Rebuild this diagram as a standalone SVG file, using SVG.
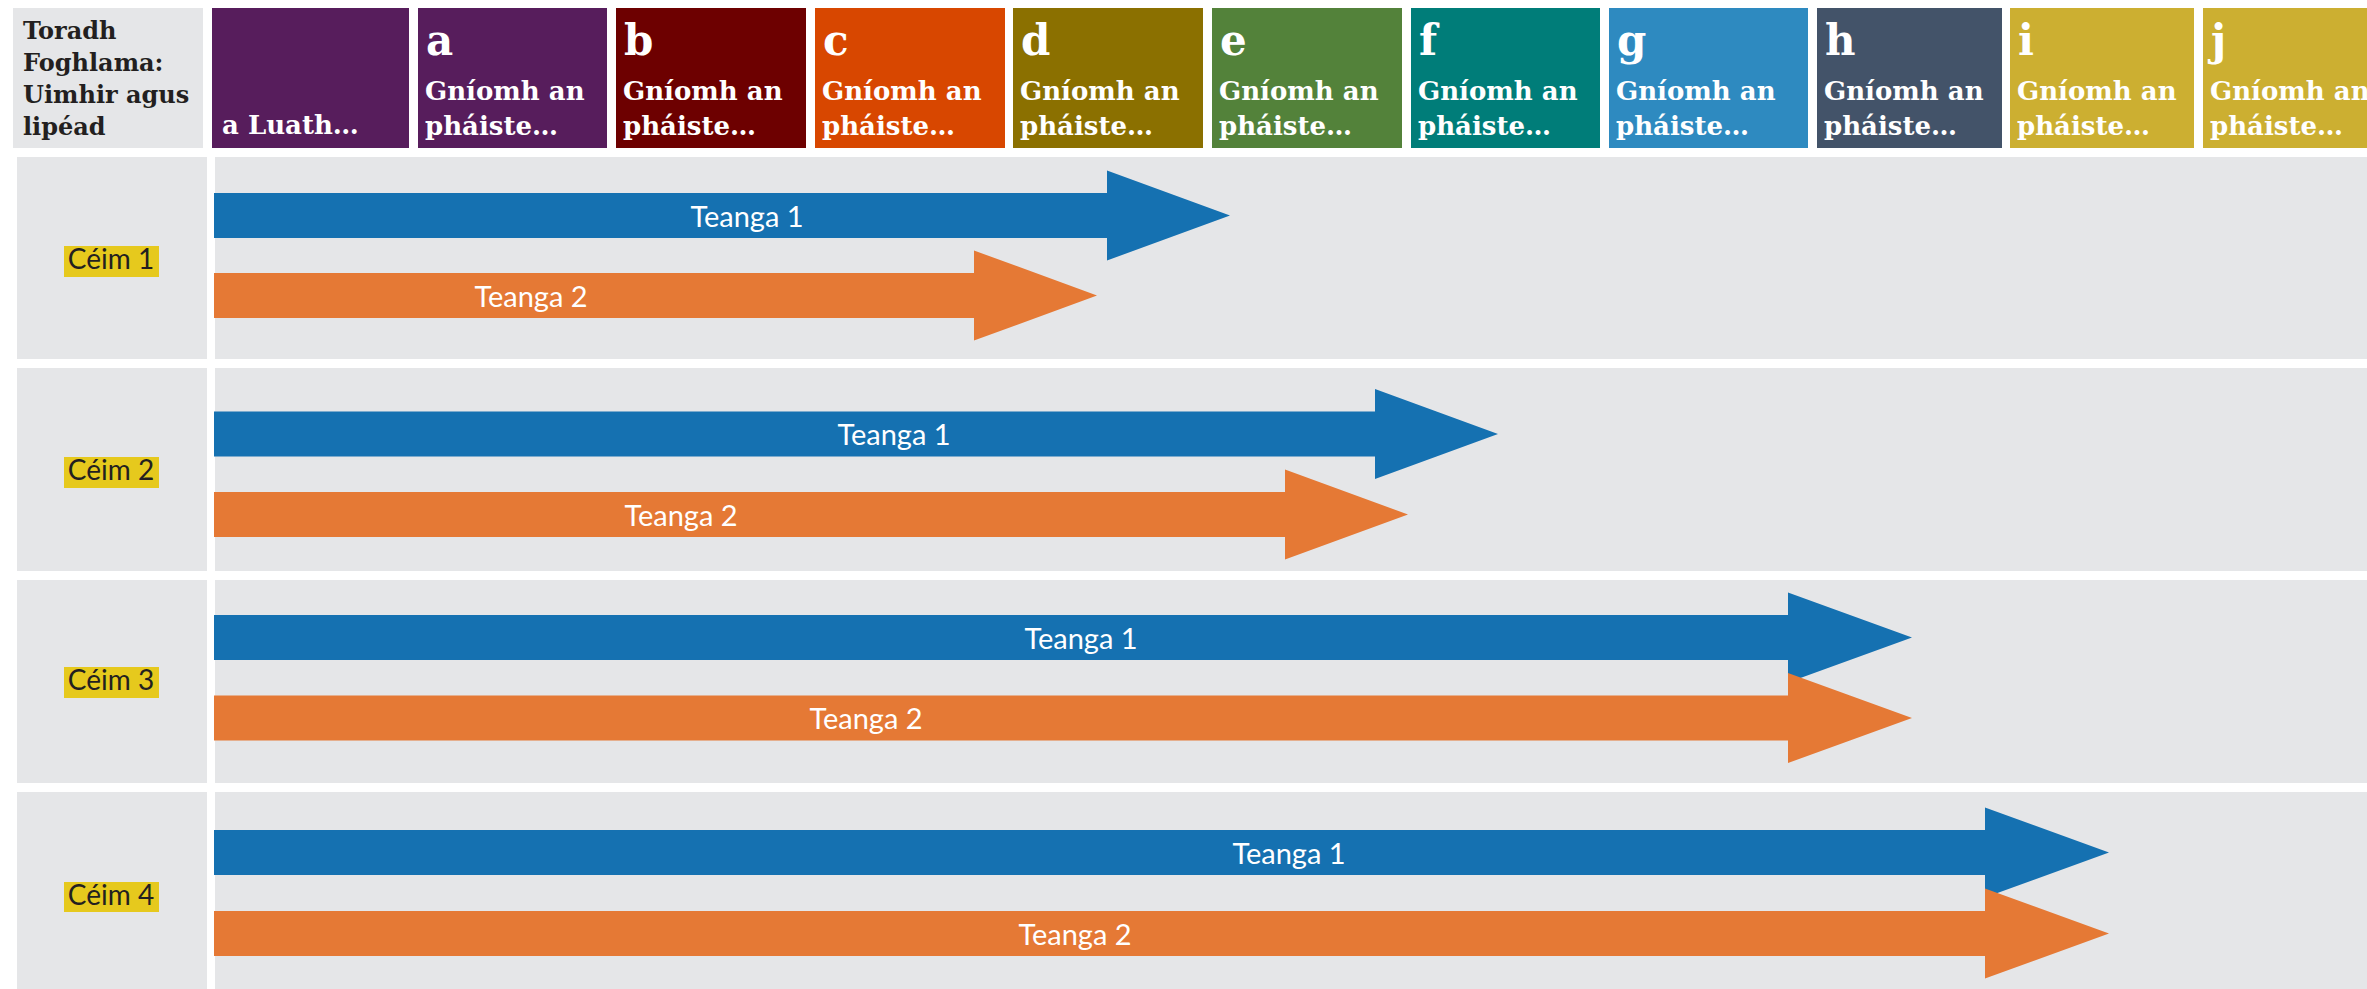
<svg xmlns="http://www.w3.org/2000/svg" width="2367" height="989" viewBox="0 0 2367 989">
<style>
.grey{fill:#e5e6e8}
.hl{fill:#e6c91d}
.hd{font-family:"DejaVu Serif","Liberation Serif",serif;font-weight:bold;fill:#ffffff}
.big{font-size:42px}
.sm{font-size:26px}
.tor{font-family:"DejaVu Serif","Liberation Serif",serif;font-weight:bold;font-size:24px;fill:#231f20}
.ceim{font-family:Lato,"Open Sans",sans-serif;font-size:28px;fill:#231f20;text-anchor:middle}
.lab{font-family:Lato,"Open Sans",sans-serif;font-size:29px;fill:#ffffff;text-anchor:middle}
.blue{fill:#1571b1}
.orange{fill:#e57935}
</style>
<rect width="2367" height="989" fill="#ffffff"/>

<!-- header -->
<g id="hdr-label">
<rect class="grey" x="13" y="8" width="190" height="140"/>
<text class="tor" x="23" y="39">Toradh</text>
<text class="tor" x="23" y="71">Foghlama:</text>
<text class="tor" x="23" y="103">Uimhir agus</text>
<text class="tor" x="23" y="135">lipéad</text>
</g>
<g id="hdr-luath">
<rect x="212" y="8" width="197" height="140" fill="#571d5c"/>
<text class="hd sm" x="222" y="134">a Luath…</text>
</g>
<g id="hdr-a">
<rect x="418" y="8" width="189" height="140" fill="#571d5c"/>
<text class="hd big" x="426" y="55">a</text>
<text class="hd sm" x="425" y="100">Gníomh an</text>
<text class="hd sm" x="425" y="135">pháiste…</text>
</g>
<g id="hdr-b">
<rect x="616" y="8" width="190" height="140" fill="#6d0000"/>
<text class="hd big" x="624" y="55">b</text>
<text class="hd sm" x="623" y="100">Gníomh an</text>
<text class="hd sm" x="623" y="135">pháiste…</text>
</g>
<g id="hdr-c">
<rect x="815" y="8" width="190" height="140" fill="#d84700"/>
<text class="hd big" x="823" y="55">c</text>
<text class="hd sm" x="822" y="100">Gníomh an</text>
<text class="hd sm" x="822" y="135">pháiste…</text>
</g>
<g id="hdr-d">
<rect x="1013" y="8" width="190" height="140" fill="#8b7000"/>
<text class="hd big" x="1021" y="55">d</text>
<text class="hd sm" x="1020" y="100">Gníomh an</text>
<text class="hd sm" x="1020" y="135">pháiste…</text>
</g>
<g id="hdr-e">
<rect x="1212" y="8" width="190" height="140" fill="#53823a"/>
<text class="hd big" x="1220" y="55">e</text>
<text class="hd sm" x="1219" y="100">Gníomh an</text>
<text class="hd sm" x="1219" y="135">pháiste…</text>
</g>
<g id="hdr-f">
<rect x="1411" y="8" width="189" height="140" fill="#007d79"/>
<text class="hd big" x="1419" y="55">f</text>
<text class="hd sm" x="1418" y="100">Gníomh an</text>
<text class="hd sm" x="1418" y="135">pháiste…</text>
</g>
<g id="hdr-g">
<rect x="1609" y="8" width="199" height="140" fill="#2e8ac0"/>
<text class="hd big" x="1617" y="55">g</text>
<text class="hd sm" x="1616" y="100">Gníomh an</text>
<text class="hd sm" x="1616" y="135">pháiste…</text>
</g>
<g id="hdr-h">
<rect x="1817" y="8" width="185" height="140" fill="#435369"/>
<text class="hd big" x="1825" y="55">h</text>
<text class="hd sm" x="1824" y="100">Gníomh an</text>
<text class="hd sm" x="1824" y="135">pháiste…</text>
</g>
<g id="hdr-i">
<rect x="2010" y="8" width="184" height="140" fill="#ccaf31"/>
<text class="hd big" x="2018" y="55">i</text>
<text class="hd sm" x="2017" y="100">Gníomh an</text>
<text class="hd sm" x="2017" y="135">pháiste…</text>
</g>
<g id="hdr-j">
<rect x="2203" y="8" width="164" height="140" fill="#ccaf31"/>
<text class="hd big" x="2211" y="55">j</text>
<text class="hd sm" x="2210" y="100">Gníomh an</text>
<text class="hd sm" x="2210" y="135">pháiste…</text>
</g>

<!-- rows -->
<g id="row1">
<rect class="grey" x="17" y="157" width="190" height="202"/>
<rect class="grey" x="215" y="157" width="2152" height="202"/>
<rect class="hl" x="64" y="246" width="95" height="31"/>
<text class="ceim" x="111" y="269">Céim 1</text>
</g>
<g id="row2">
<rect class="grey" x="17" y="368" width="190" height="203"/>
<rect class="grey" x="215" y="368" width="2152" height="203"/>
<rect class="hl" x="64" y="457" width="95" height="31"/>
<text class="ceim" x="111" y="480">Céim 2</text>
</g>
<g id="row3">
<rect class="grey" x="17" y="580" width="190" height="203"/>
<rect class="grey" x="215" y="580" width="2152" height="203"/>
<rect class="hl" x="64" y="667" width="95" height="31"/>
<text class="ceim" x="111" y="690">Céim 3</text>
</g>
<g id="row4">
<rect class="grey" x="17" y="792" width="190" height="197"/>
<rect class="grey" x="215" y="792" width="2152" height="197"/>
<rect class="hl" x="64" y="882" width="95" height="30"/>
<text class="ceim" x="111" y="905">Céim 4</text>
</g>

<!-- arrows -->
<g id="arrows">
<g id="r1-t1"><path class="blue" d="M214,193 H1107 V170.5 L1230,215.5 L1107,260.5 V238 H214 Z"/><text class="lab" x="747" y="227">Teanga 1</text></g>
<g id="r1-t2"><path class="orange" d="M214,273 H974 V250.5 L1097,295.5 L974,340.5 V318 H214 Z"/><text class="lab" x="531" y="307">Teanga 2</text></g>
<g id="r2-t1"><path class="blue" d="M214,411.5 H1375 V389 L1498,434 L1375,479 V456.5 H214 Z"/><text class="lab" x="894" y="445">Teanga 1</text></g>
<g id="r2-t2"><path class="orange" d="M214,492 H1285 V469.5 L1408,514.5 L1285,559.5 V537 H214 Z"/><text class="lab" x="681" y="526">Teanga 2</text></g>
<g id="r3-t1"><path class="blue" d="M214,615 H1788 V592.5 L1912,637.5 L1788,682.5 V660 H214 Z"/><text class="lab" x="1081" y="649">Teanga 1</text></g>
<g id="r3-t2"><path class="orange" d="M214,695.5 H1788 V673 L1912,718 L1788,763 V740.5 H214 Z"/><text class="lab" x="866" y="729">Teanga 2</text></g>
<g id="r4-t1"><path class="blue" d="M214,830 H1985 V807.5 L2109,852.5 L1985,897.5 V875 H214 Z"/><text class="lab" x="1289" y="864">Teanga 1</text></g>
<g id="r4-t2"><path class="orange" d="M214,911 H1985 V888.5 L2109,933.5 L1985,978.5 V956 H214 Z"/><text class="lab" x="1075" y="945">Teanga 2</text></g>
</g>
</svg>
